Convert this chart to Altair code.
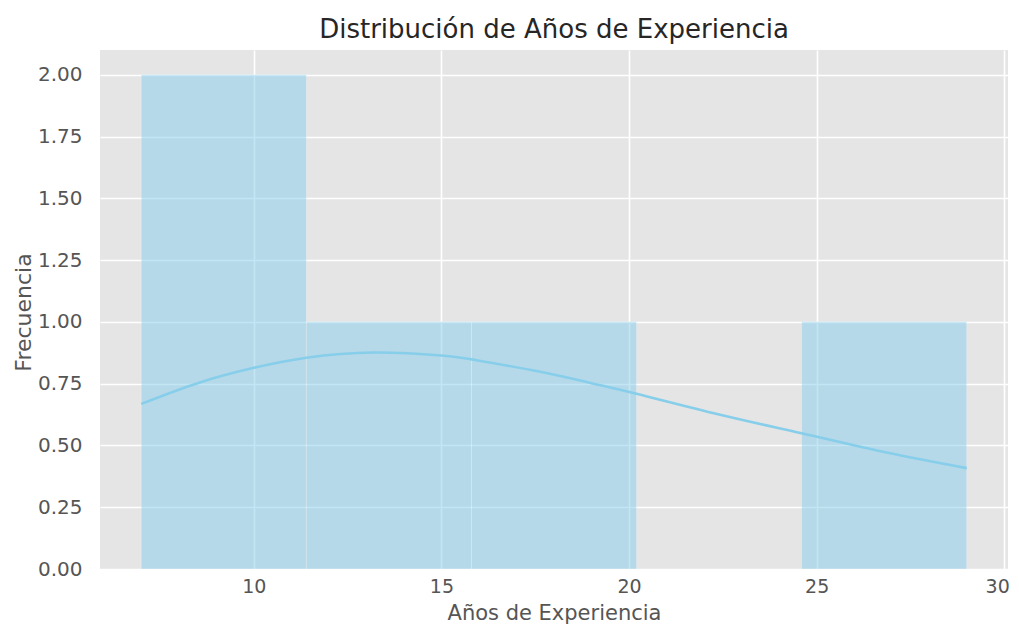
import altair as alt
import pandas as pd

# Histogram bins (Años de Experiencia) and counts
bin_start = [7.0, 11.4, 15.8, 20.2, 24.6]
bin_end = [11.4, 15.8, 20.2, 24.6, 29.0]
counts = [2, 1, 1, 0, 1]

# KDE curve (scaled to counts)
kde_x = [7.0, 8.5, 10.0, 11.4, 13.2, 15.0, 15.9, 17.6, 19.0, 20.2, 22.4, 24.6, 26.9, 29.0]
kde_y = [0.668, 0.752, 0.814, 0.855, 0.876, 0.864, 0.846, 0.799, 0.752, 0.709, 0.625, 0.549, 0.470, 0.408]

x_ticks = [10, 15, 20, 25, 30]
y_ticks = [0, 0.25, 0.5, 0.75, 1.0, 1.25, 1.5, 1.75, 2.0]

hist_df = pd.DataFrame({"start": bin_start, "end": bin_end, "count": counts})
kde_df = pd.DataFrame({"x": kde_x, "y": kde_y})

FONT = "DejaVu Sans"
GRAY = "#555555"

x_scale = alt.Scale(domain=[5.9, 30.1], nice=False, zero=False)
y_scale = alt.Scale(domain=[0, 2.1], nice=False)

x_axis = alt.Axis(
    title="Años de Experiencia", values=x_ticks, format="d",
    grid=True, gridColor="white", gridWidth=1.6, domain=False, ticks=False,
    labelFont=FONT, labelFontSize=19, labelColor=GRAY, labelPadding=8,
    labelFlush=6, labelFlushOffset=5,
    titleFont=FONT, titleFontSize=21, titleColor=GRAY, titleFontWeight="normal",
    titleY=50, titleBaseline="alphabetic",
)
y_axis = alt.Axis(
    title="Frecuencia", values=y_ticks, format=".2f",
    grid=True, gridColor="white", gridWidth=1.6, domain=False, ticks=False,
    labelFont=FONT, labelFontSize=20, labelColor=GRAY, labelPadding=18,
    titleFont=FONT, titleFontSize=22, titleColor=GRAY, titleFontWeight="normal",
    titleX=-70, titleY=262, titleAngle=-90, titleAlign="center", titleBaseline="alphabetic",
)

bars = alt.Chart(hist_df).transform_filter(alt.datum["count"] > 0).mark_bar(
    color="#87CEEB", opacity=0.5, stroke="white", strokeOpacity=0.35, strokeWidth=1
).encode(
    x=alt.X("start:Q", scale=x_scale, axis=x_axis),
    x2="end:Q",
    y=alt.Y("count:Q", scale=y_scale, axis=y_axis),
    y2=alt.datum(0),
)

line = alt.Chart(kde_df).mark_line(
    color="#87CEEB", strokeWidth=2.6, interpolate="natural"
).encode(
    x=alt.X("x:Q", scale=x_scale),
    y=alt.Y("y:Q", scale=y_scale),
)

chart = alt.layer(bars, line).properties(
    width=908,
    height=519,
    background="white",
    title=alt.TitleParams(
        "Distribución de Años de Experiencia",
        font=FONT, fontSize=26, fontWeight="normal", color="#262626",
        anchor="middle", baseline="alphabetic", offset=11, dy=25,
    ),
    autosize=alt.AutoSizeParams(type="none"),
    padding={"left": 92, "top": 42, "right": 3, "bottom": 55},
).configure_view(
    fill="#E5E5E5", stroke=None
)

chart.save("out.html", embed_options={"renderer": "svg", "actions": False})
